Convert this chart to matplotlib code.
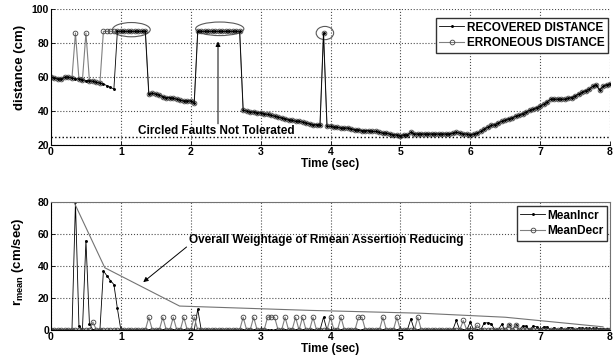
import matplotlib

matplotlib.use("Agg")
import matplotlib.pyplot as plt
import numpy as np
from matplotlib.patches import Ellipse

plt.rcParams["font.family"] = ["Liberation Sans", "DejaVu Sans"]
plt.rcParams["font.weight"] = "bold"
plt.rcParams["axes.labelweight"] = "bold"
plt.rcParams["mathtext.fontset"] = "custom"
plt.rcParams["mathtext.rm"] = "Liberation Sans:bold"
plt.rcParams["mathtext.bf"] = "Liberation Sans:bold"

# sample instants, one every 0.05 s from 0 to 8 s (one row of 20 = one second)
t = np.round(np.arange(161) * 0.05, 2)

# --- top panel: distance (cm) ------------------------------------------------
erroneous = [
    60, 59.5, 59, 59, 60, 60, 59.5, 86, 59, 58.5, 86, 58, 57.5, 57, 56.5, 87, 87, 87, 87, 87,
    87, 87, 87, 87, 87, 87, 87, 87, 50, 50.5, 50, 49.5, 48.5, 48, 48, 47.5, 47, 46.5, 46, 46,
    46, 45, 87, 87, 87, 87, 87, 87, 87, 87, 87, 87, 87, 87, 87, 40.5, 40, 39.5, 39.5, 39,
    39, 38.5, 38, 37.5, 37, 36.5, 36, 35.5, 35, 34.5, 34, 34, 33.5, 33, 32.5, 32, 32, 32, 86, 31,
    31, 30.5, 30.5, 30, 30, 30, 29.5, 29, 29, 28.5, 28.5, 28.5, 28, 28, 27.5, 27, 27, 26.5, 26, 26,
    25.5, 26, 26, 27.5, 26.5, 26.5, 26.5, 26.5, 26.5, 26.5, 26.5, 26.5, 26.5, 26.5, 26.5, 27, 27.5, 27, 26.5, 26.5,
    26, 26.5, 27, 28, 29.5, 30.5, 31.5, 32, 33, 34, 34.5, 35.5, 36, 37, 37.5, 38.5, 39.5, 40.5, 41, 42,
    43, 44, 45.5, 47, 47, 47, 47, 47, 47.5, 48, 49, 50, 51, 52, 53, 54.5, 55.5, 52.5, 54.5, 55.5,
    56,
]
recovered = [
    60, 59.5, 59, 59, 60, 60, 59.5, 59, 59, 58.5, 58, 58, 57.5, 57, 56.5, 56, 55, 54, 53, 87,
    87, 87, 87, 87, 87, 87, 87, 87, 50, 50.5, 50, 49.5, 48.5, 48, 48, 47.5, 47, 46.5, 46, 46,
    46, 45, 87, 87, 87, 87, 87, 87, 87, 87, 87, 87, 87, 87, 87, 40.5, 40, 39.5, 39.5, 39,
    39, 38.5, 38, 37.5, 37, 36.5, 36, 35.5, 35, 34.5, 34, 34, 33.5, 33, 32.5, 32, 32, 32, 86, 31,
    31, 30.5, 30.5, 30, 30, 30, 29.5, 29, 29, 28.5, 28.5, 28.5, 28, 28, 27.5, 27, 27, 26.5, 26, 26,
    25.5, 26, 26, 27.5, 26.5, 26.5, 26.5, 26.5, 26.5, 26.5, 26.5, 26.5, 26.5, 26.5, 26.5, 27, 27.5, 27, 26.5, 26.5,
    26, 26.5, 27, 28, 29.5, 30.5, 31.5, 32, 33, 34, 34.5, 35.5, 36, 37, 37.5, 38.5, 39.5, 40.5, 41, 42,
    43, 44, 45.5, 47, 47, 47, 47, 47, 47.5, 48, 49, 50, 51, 52, 53, 54.5, 55.5, 52.5, 54.5, 55.5,
    56,
]
threshold = 25

# circled faults: centre time, centre distance, width (s), height (cm)
circ_t = [1.15, 2.415, 3.92]
circ_d = [88, 88.5, 86]
circ_w = [0.54, 0.69, 0.25]
circ_h = [8.4, 8.0, 7.8]

# --- bottom panel: r_mean (cm/sec) ------------------------------------------
mean_incr = [
    0, 0, 0, 0, 0, 0, 0, 80, 2.5, 0, 56, 4, 0, 0, 0, 37, 34, 31, 28.5, 13.5,
    0, 0, 0, 0, 0, 0, 0, 0, 0, 0, 0, 0, 0, 0, 0, 0, 0, 0, 0, 0,
    0, 0, 13, 0, 0, 0, 0, 0, 0, 0, 0, 0, 0, 0, 0, 0, 0, 0, 0, 0,
    0, 0, 0, 0, 0, 0, 0, 0, 0, 0, 0, 0, 0, 0, 0, 0, 0, 0, 8, 0,
    0, 0, 0, 0, 0, 0, 0, 0, 0, 0, 0, 0, 0, 0, 0, 0, 0, 0, 0, 0,
    0, 0, 0, 7, 0, 0, 0, 0, 0, 0, 0, 0, 0, 0, 0, 0, 6, 0, 0, 0,
    5, 0, 0, 0, 4.5, 4.5, 4, 0, 0, 3.5, 0, 3, 0, 3, 0, 2.5, 2.5, 0, 2.5, 2,
    0, 2, 2, 0, 1.5, 0, 1.5, 0, 1.5, 1.5, 0, 1.2, 1.2, 1, 1, 1, 1, 0.8, 0.8, 0.5,
    0,
]
mean_decr = [
    0, 0, 0, 0, 0, 0, 0, 0, 0, 0, 0, 0, 5, 0, 0, 0, 0, 0, 0, 0,
    0, 0, 0, 0, 0, 0, 0, 0, 8, 0, 0, 0, 8, 0, 0, 8, 0, 0, 8, 0,
    0, 8, 0, 0, 0, 0, 0, 0, 0, 0, 0, 0, 0, 0, 0, 8, 0, 0, 8, 0,
    0, 0, 8, 8, 8, 0, 0, 8, 0, 0, 8, 0, 8, 0, 0, 8, 0, 0, 0, 0,
    8, 0, 0, 8, 0, 0, 0, 0, 8, 8, 0, 0, 0, 0, 0, 8, 0, 0, 0, 8,
    0, 0, 0, 0, 0, 8, 0, 0, 0, 0, 0, 0, 0, 0, 0, 0, 0, 0, 6, 0,
    0, 0, 3, 0, 0, 0, 0, 0, 0, 0, 0, 3, 0, 3, 0, 0, 0, 0, 0, 0,
    0, 0, 0, 0, 0, 0, 0, 0, 0, 0, 0, 0, 0, 0, 0, 0, 0, 0, 0, 0,
    0,
]

# overall weightage envelope
env_t = [0.33, 0.77, 1.84, 3.7, 5.3, 6.5, 7.9]
env_r = [80, 39, 15, 12.3, 10.5, 8, 2]

fig = plt.figure(figsize=(6.15, 3.59), dpi=100)
W, H = 615.0, 359.0
ax1 = fig.add_axes([51 / W, 1 - 145 / H, 559 / W, 135.7 / H])
ax2 = fig.add_axes([51 / W, 1 - 330 / H, 559 / W, 127.7 / H])

err_style = dict(color="0.5", lw=0.8, marker="o", ms=3.4, mfc="none",
                 mec="0.25", mew=0.6)
inc_style = dict(color="k", lw=0.6, marker=".", ms=2.2)

# top
e_line, = ax1.plot(t, erroneous, label="ERRONEOUS DISTANCE", **err_style)
r_line, = ax1.plot(t, recovered, label="RECOVERED DISTANCE", **inc_style)
ax1.axhline(threshold, color="k", ls=":", lw=1.0)
for ct, cd, cw, ch in zip(circ_t, circ_d, circ_w, circ_h):
    ax1.add_patch(Ellipse((ct, cd), cw, ch, fill=False, ec="0.35", lw=0.8))
ax1.annotate("", xy=(2.39, 81), xytext=(2.39, 32.5),
             arrowprops=dict(arrowstyle="-|>", color="k", lw=0.7,
                             mutation_scale=7, shrinkA=0, shrinkB=0))
ax1.text(1.247, 28.3, "Circled Faults Not Tolerated", fontsize=8.5,
         va="center", ha="left")
ax1.set_xlim(0, 8)
ax1.set_ylim(20, 100)
ax1.set_yticks([20, 40, 60, 80, 100])
ax1.set_xlabel("Time (sec)", fontsize=8.5, labelpad=0.5)
ax1.set_ylabel("distance (cm)", fontsize=9.5)
ax1.legend([r_line, e_line], ["RECOVERED DISTANCE", "ERRONEOUS DISTANCE"],
           loc="upper right", bbox_to_anchor=(0.996, 0.936), borderaxespad=0,
           fontsize=8.5, fancybox=False, framealpha=1, edgecolor="0.2",
           handlelength=2.1, handletextpad=0.2, labelspacing=0.3,
           borderpad=0.3)
ax1.spines["top"].set_visible(False)
ax1.spines["right"].set_visible(False)

# bottom
i_line, = ax2.plot(t, mean_incr, label="MeanIncr", **inc_style)
d_line, = ax2.plot(t, mean_decr, label="MeanDecr", **err_style)
ax2.plot(env_t, env_r, color="0.45", lw=0.8)
ax2.annotate("", xy=(1.32, 30), xytext=(1.94, 52),
             arrowprops=dict(arrowstyle="-|>", color="k", lw=0.7,
                             mutation_scale=7, shrinkA=0, shrinkB=0))
ax2.text(1.97, 56.5, "Overall Weightage of Rmean Assertion Reducing",
         fontsize=8.5, va="center", ha="left")
ax2.set_xlim(0, 8)
ax2.set_ylim(0, 80)
ax2.set_yticks([0, 20, 40, 60, 80])
ax2.set_xlabel("Time (sec)", fontsize=8.5, labelpad=0.5)
ax2.set_ylabel(r"r$_{\mathbf{mean}}$ (cm/sec)", fontsize=9.5)
ax2.legend([i_line, d_line], ["MeanIncr", "MeanDecr"],
           loc="upper right", bbox_to_anchor=(0.995, 0.971), borderaxespad=0,
           fontsize=8.5, fancybox=False, framealpha=1, edgecolor="0.2",
           handlelength=2.1, handletextpad=0.2, labelspacing=0.3,
           borderpad=0.3)
for s in ("top", "right"):
    ax2.spines[s].set_color("0.45")

for ax in (ax1, ax2):
    ax.set_axisbelow(True)
    ax.grid(True, ls=":", color="0.3", lw=0.8)
    ax.set_xticks(range(0, 9))
    ax.tick_params(direction="in", length=3, width=0.6, labelsize=7.5, pad=1.5)
    for s in ("left", "bottom"):
        ax.spines[s].set_linewidth(0.8)

ax1.yaxis.set_label_coords(-0.045, 0.575)
ax2.yaxis.set_label_coords(-0.044, 0.535)

fig.savefig("out.png", dpi=100)
